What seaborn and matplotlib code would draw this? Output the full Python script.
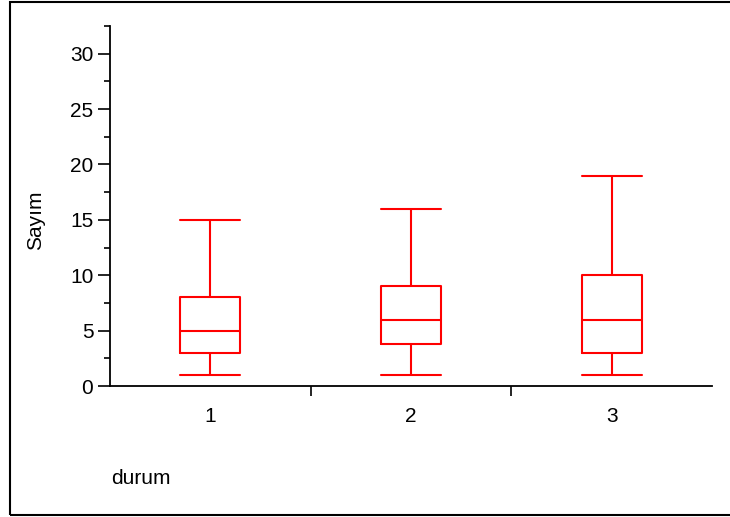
import numpy as np
import pandas as pd
import matplotlib
matplotlib.use("Agg")
import matplotlib.pyplot as plt
from matplotlib.patches import Rectangle
from matplotlib.ticker import MultipleLocator
import seaborn as sns

sns.set_style("ticks")
plt.rcParams['font.family'] = ['Liberation Sans', 'DejaVu Sans']
plt.rcParams['text.color'] = 'black'

# five-number summaries (min, Q1, median, Q3, max)
durum_levels = ["1", "2", "3"]
sayim_1 = [1, 3, 5, 8, 15]
sayim_2 = [1, 3.8, 6, 9, 16]
sayim_3 = [1, 3, 6, 10, 19]

df = pd.DataFrame({
    "durum": [durum_levels[0]] * len(sayim_1) + [durum_levels[1]] * len(sayim_2) + [durum_levels[2]] * len(sayim_3),
    "Sayım": sayim_1 + sayim_2 + sayim_3,
})

fig = plt.figure(figsize=(7.3, 5.17), dpi=100)
ax = fig.add_axes([110/730, 1 - 386/517, (712 - 110)/730, (386 - 26)/517])

sns.boxplot(data=df, x="durum", y="Sayım", order=durum_levels, ax=ax,
            fill=False, color="#ff0000", linecolor="#ff0000", width=0.3,
            whis=(0, 100), linewidth=1.5, capwidths=0.3, showfliers=False)

ax.set_xlim(-0.5, 2.5)
ax.set_ylim(0, 32.5)
ax.set_yticks([0, 5, 10, 15, 20, 25, 30])
ax.yaxis.set_minor_locator(MultipleLocator(2.5))
ax.set_xticks([0.5, 1.5], minor=True)

sns.despine(ax=ax)
for s in ["left", "bottom"]:
    ax.spines[s].set_linewidth(1.3)
    ax.spines[s].set_color("black")

fs = 15
ax.tick_params(axis="y", which="major", length=9, width=1.2, pad=3, labelsize=fs, colors="black")
ax.tick_params(axis="y", which="minor", length=4.5, width=1.2, colors="black")
ax.tick_params(axis="x", which="major", length=0, pad=15, labelsize=fs, colors="black")
ax.tick_params(axis="x", which="minor", length=7, width=1.2, colors="black")

ax.set_xlabel("")
ax.set_ylabel("")
fig.text(36/730, 1 - 220/517, "Sayım", rotation=90, ha="center", va="center", fontsize=fs)
fig.text(111/730, 1 - 478/517, "durum", ha="left", va="center", fontsize=fs)

fig.patches.append(Rectangle((10/730, 2/517), 1.2, 1 - 3.5/517, transform=fig.transFigure,
                             fill=False, edgecolor="black", linewidth=1.5))

fig.savefig("out.png", dpi=100)
